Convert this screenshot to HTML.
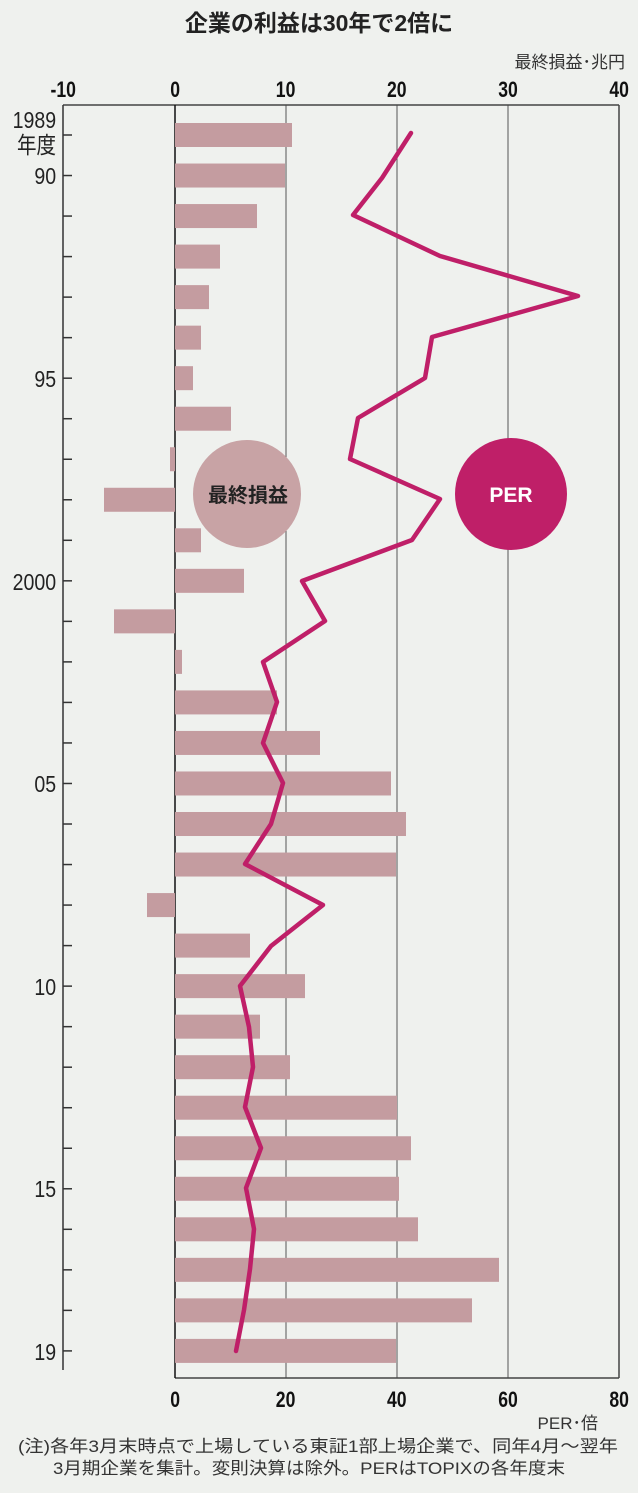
<!DOCTYPE html>
<html><head><meta charset="utf-8"><style>
body{margin:0;background:#eff1ee;}
svg{display:block;font-family:"Liberation Sans","Noto Sans CJK JP",sans-serif;}
</style></head><body>
<svg width="638" height="1493" viewBox="0 0 638 1493">
<rect width="638" height="1493" fill="#eff1ee"/>
<text x="319" y="31" font-size="23" text-anchor="middle" font-weight="bold" fill="#222">企業の利益は30年で2倍に</text>
<text x="625" y="68" font-size="17" text-anchor="end" fill="#333">最終損益･兆円</text>
<g font-size="22" font-weight="bold" text-anchor="middle" fill="#111" transform="scale(0.8,1)">
<text x="79" y="97">-10</text><text x="219" y="97">0</text><text x="357" y="97">10</text><text x="496" y="97">20</text><text x="635" y="97">30</text><text x="774" y="97">40</text>
</g>
<g stroke="#555" stroke-width="1">
<line x1="286" y1="105" x2="286" y2="1378"/><line x1="397" y1="105" x2="397" y2="1378"/><line x1="508" y1="105" x2="508" y2="1378"/>
</g>
<line x1="63" y1="105" x2="619" y2="105" stroke="#444" stroke-width="1.5"/>
<line x1="619" y1="105" x2="619" y2="1378" stroke="#444" stroke-width="1.5"/>
<line x1="175" y1="1378" x2="619" y2="1378" stroke="#444" stroke-width="1.5"/>
<line x1="63" y1="105" x2="63" y2="1370" stroke="#333" stroke-width="1.5"/>
<line x1="175" y1="105" x2="175" y2="1378" stroke="#111" stroke-width="1.5"/>
<g id="ticks" stroke="#333" stroke-width="1.5"></g>
<g id="bars" fill="#c49ca0"></g>
<g font-size="23" text-anchor="end" fill="#222" transform="scale(0.85,1)">
<text x="66" y="128">1989</text><text x="66" y="153">年度</text>
<text x="66" y="184">90</text><text x="66" y="387">95</text><text x="66" y="590">2000</text><text x="66" y="792">05</text><text x="66" y="995">10</text><text x="66" y="1197">15</text><text x="66" y="1360">19</text>
</g>
<circle cx="247" cy="494" r="54" fill="#c8a3a5"/>
<text x="248" y="502" font-size="20" font-weight="bold" text-anchor="middle" fill="#222">最終損益</text>
<circle cx="511" cy="494" r="56" fill="#bf1f68"/>
<text x="511" y="502" font-size="21" font-weight="bold" text-anchor="middle" fill="#fff">PER</text>
<polyline fill="none" stroke="#bf1f68" stroke-width="4.5" stroke-linejoin="round" stroke-linecap="round" points="411,133 382,178 353,215 440,256 578,296 432,337 425,378 358,418 350,459 440,499 412,540 302,581 325,621 263,662 277,702 263,743 283,783 271,824 245,864 323,905 271,946 240,986 249,1027 253,1067 245,1107 261,1148 246,1188 254,1229 250,1269 244,1310 236,1351"/>
<g font-size="22" font-weight="bold" text-anchor="middle" fill="#111" transform="scale(0.8,1)">
<text x="219" y="1407">0</text><text x="357" y="1407">20</text><text x="496" y="1407">40</text><text x="635" y="1407">60</text><text x="774" y="1407">80</text>
</g>
<text x="598" y="1429" font-size="17" text-anchor="end" fill="#333">PER･倍</text>
<text x="318" y="1452" font-size="17" text-anchor="middle" fill="#333" textLength="600" lengthAdjust="spacingAndGlyphs">(注)各年3月末時点で上場している東証1部上場企業で、同年4月～翌年</text>
<text x="309" y="1474" font-size="17" text-anchor="middle" fill="#333" textLength="512" lengthAdjust="spacingAndGlyphs">3月期企業を集計。変則決算は除外。PERはTOPIXの各年度末</text>
</svg>
<script>
var ends=[292,285,257,220,209,201,193,231,170,104,201,244,114,182,277,320,391,406,396,147,250,305,260,290,397,411,399,418,499,472,396];
var b=document.getElementById('bars'),t=document.getElementById('ticks'),ns="http://www.w3.org/2000/svg";
for(var i=0;i<31;i++){var y=135+i*40.53;var x1=Math.min(175,ends[i]),x2=Math.max(175,ends[i]);
var r=document.createElementNS(ns,'rect');r.setAttribute('x',x1);r.setAttribute('y',y-12);r.setAttribute('width',x2-x1);r.setAttribute('height',24);b.appendChild(r);
var l=document.createElementNS(ns,'line');l.setAttribute('x1',63);l.setAttribute('x2',72);l.setAttribute('y1',y);l.setAttribute('y2',y);t.appendChild(l);}
</script>
</body></html>
